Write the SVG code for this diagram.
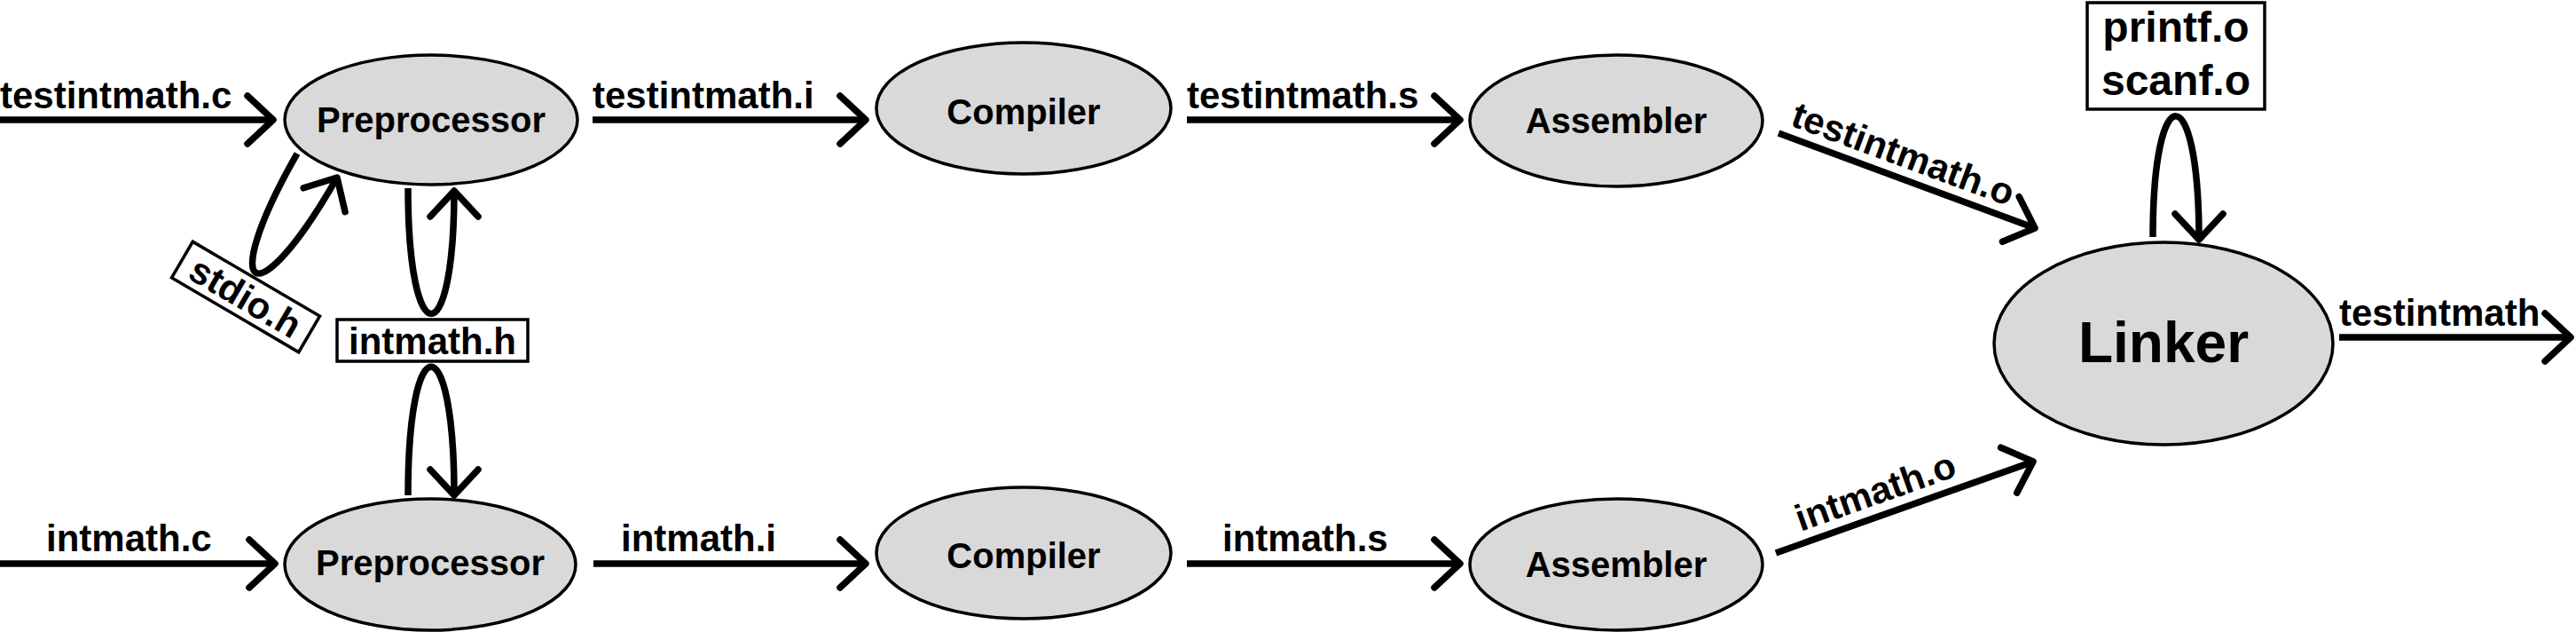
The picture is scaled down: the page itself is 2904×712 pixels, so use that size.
<svg xmlns="http://www.w3.org/2000/svg" width="2904" height="712" viewBox="0 0 2904 712">
<defs>
<marker id="ah" markerUnits="userSpaceOnUse" markerWidth="80" markerHeight="80" viewBox="-40 -40 80 80" refX="0" refY="0" orient="auto" overflow="visible">
<path d="M -29 -27 L 0 0 L -29 27" fill="none" stroke="#000" stroke-width="7.5" stroke-linecap="round" stroke-linejoin="round"/>
</marker>
<style>
.node ellipse{fill:#d9d9d9;stroke:#000;stroke-width:3.5}
.t{font-family:"Liberation Sans",Arial,sans-serif;font-weight:bold;fill:#000}
.nl{font-size:40px;text-anchor:middle}
.el{font-size:42px}
.edge{fill:none;stroke:#000;stroke-width:7.5;marker-end:url(#ah)}
.box{fill:#fff;stroke:#000;stroke-width:3.5}
</style>
</defs>
<rect width="2904" height="712" fill="#fff"/>

<g id="connectors">
<path class="edge" d="M 0 135 H 308"/>
<path class="edge" d="M 668 135 H 976"/>
<path class="edge" d="M 1338 135 H 1646"/>
<path class="edge" d="M 2005 150 L 2294 257"/>
<path class="edge" d="M 0 635 H 310"/>
<path class="edge" d="M 669 635 H 976"/>
<path class="edge" d="M 1338 635 H 1646"/>
<path class="edge" d="M 2002 623 L 2292 520"/>
<path class="edge" d="M 2637 380 H 2898"/>
<path class="edge" d="M 335 173 C 243 334 288 361 380 200"/>
<path class="edge" d="M 460 212 C 460 400 512 400 512 215"/>
<path class="edge" d="M 460 558 C 460 365 512 365 512 558"/>
<path class="edge" d="M 2427 267 C 2427 85 2479 85 2479 270"/>
<text class="t el" x="0" y="122">testintmath.c</text>
<text class="t el" x="668" y="122">testintmath.i</text>
<text class="t el" x="1338" y="122">testintmath.s</text>
<text class="t el" x="52" y="621">intmath.c</text>
<text class="t el" x="700" y="621">intmath.i</text>
<text class="t el" x="1378" y="621">intmath.s</text>
<text class="t el" x="2637" y="367">testintmath</text>
<text class="t el" transform="translate(2017 141) rotate(20.3)">testintmath.o</text>
<text class="t el" transform="translate(2030 599) rotate(-19.6)">intmath.o</text>
</g>

<g id="pre1" class="node"><ellipse cx="486" cy="135" rx="165" ry="73"/><text class="t nl" x="486" y="149">Preprocessor</text></g>
<g id="comp1" class="node"><ellipse cx="1154" cy="122" rx="166" ry="74"/><text class="t nl" x="1154" y="140">Compiler</text></g>
<g id="asm1" class="node"><ellipse cx="1822" cy="136" rx="165" ry="74"/><text class="t nl" x="1822" y="150">Assembler</text></g>
<g id="pre2" class="node"><ellipse cx="485" cy="636" rx="164" ry="74"/><text class="t nl" x="485" y="648">Preprocessor</text></g>
<g id="comp2" class="node"><ellipse cx="1154" cy="623" rx="166" ry="74"/><text class="t nl" x="1154" y="640">Compiler</text></g>
<g id="asm2" class="node"><ellipse cx="1822" cy="636" rx="165" ry="74"/><text class="t nl" x="1822" y="650">Assembler</text></g>
<g id="linker" class="node"><ellipse cx="2439" cy="387" rx="191" ry="114"/><text class="t" x="2439" y="408" font-size="64" text-anchor="middle">Linker</text></g>

<g id="stdio" transform="translate(277 334.5) rotate(30.4)"><rect class="box" x="-83" y="-23.5" width="166" height="47"/><text class="t el" x="0" y="15" text-anchor="middle">stdio.h</text></g>
<g id="intmath_h"><rect class="box" x="380" y="360" width="215" height="47"/><text class="t el" x="487.5" y="399" text-anchor="middle">intmath.h</text></g>
<g id="libs"><rect class="box" x="2353" y="3" width="200" height="120"/><text class="t" x="2453" y="47" font-size="48" text-anchor="middle">printf.o</text><text class="t" x="2453" y="107" font-size="48" text-anchor="middle">scanf.o</text></g>
</svg>
